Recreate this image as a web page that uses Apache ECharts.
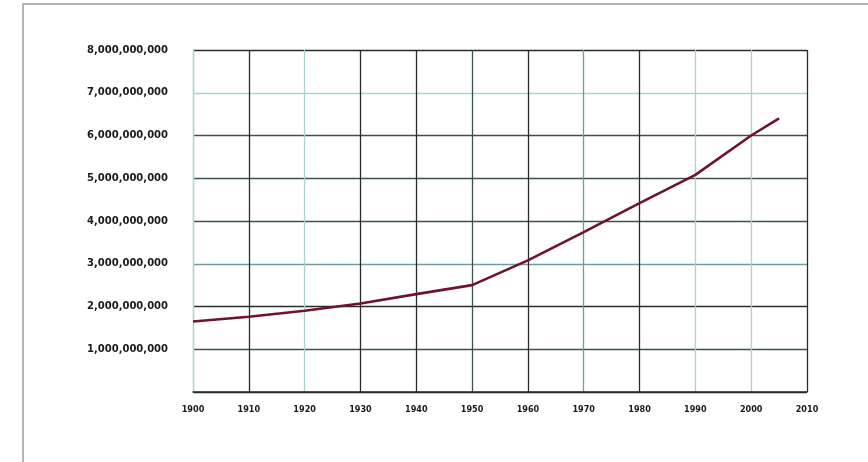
<!DOCTYPE html>
<html>
<head>
<meta charset="utf-8">
<script src="https://cdn.jsdelivr.net/npm/echarts@6/dist/echarts.min.js"></script>
<style>
html,body{margin:0;padding:0;background:#fff;}
#frame{position:absolute;left:22px;top:3px;width:846px;height:459px;border-left:2px solid #b4b4b4;border-top:2px solid #b4b4b4;}
#chart{position:absolute;left:0;top:0;width:868px;height:462px;}
</style>
</head>
<body>
<div id="frame"></div>
<div id="chart"></div>
<script>
// Data
var years = [1900, 1910, 1920, 1930, 1940, 1950, 1960, 1970, 1980, 1990, 2000, 2005];
var population = [1650000000, 1760000000, 1900000000, 2070000000, 2290000000, 2500000000, 3080000000, 3740000000, 4420000000, 5080000000, 6000000000, 6400000000];
var xTicks = [1900, 1910, 1920, 1930, 1940, 1950, 1960, 1970, 1980, 1990, 2000, 2010];
var yTicks = [0, 1000000000, 2000000000, 3000000000, 4000000000, 5000000000, 6000000000, 7000000000, 8000000000];

var K = '#2b2b2b', T = '#a9d3d3', D = '#3d4f4f', M = '#6f9c9c';
var xGridColors = [T, K, T, K, K, D, K, M, K, T, T, K];
var yGridColors = [K, D, K, M, D, D, D, T, K];

var chart = echarts.init(document.getElementById('chart'), null, {renderer: 'canvas'});
chart.setOption({
  animation: false,
  backgroundColor: 'transparent',
  grid: {left: 193, right: 61, top: 50, bottom: 70, containLabel: false},
  xAxis: {
    type: 'value',
    min: xTicks[0],
    max: xTicks[xTicks.length - 1],
    interval: 10,
    axisLine: {show: true, lineStyle: {color: K, width: 1.5}},
    axisTick: {show: false},
    axisLabel: {
      margin: 13,
      color: '#1a1a1a',
      fontFamily: '"DejaVu Sans Condensed", "DejaVu Sans", sans-serif',
      fontWeight: 'bold',
      fontSize: 9,
      formatter: function (v) { return String(v); }
    },
    splitLine: {show: true, lineStyle: {color: xGridColors, width: 1.3}}
  },
  yAxis: {
    type: 'value',
    min: yTicks[0],
    max: yTicks[yTicks.length - 1],
    interval: 1000000000,
    axisLine: {show: true, lineStyle: {color: T, width: 1.3}},
    axisTick: {show: false},
    axisLabel: {
      margin: 25,
      showMinLabel: false,
      color: '#1a1a1a',
      fontFamily: '"DejaVu Sans", sans-serif',
      fontWeight: 'bold',
      fontSize: 10,
      formatter: function (v) { return v.toLocaleString('en-US'); }
    },
    splitLine: {show: true, lineStyle: {color: yGridColors, width: 1.3}}
  },
  series: [{
    type: 'line',
    data: years.map(function (y, i) { return [y, population[i]]; }),
    showSymbol: false,
    smooth: false,
    lineStyle: {color: '#6e1230', width: 2.6},
    z: 10
  }]
});
</script>
</body>
</html>
